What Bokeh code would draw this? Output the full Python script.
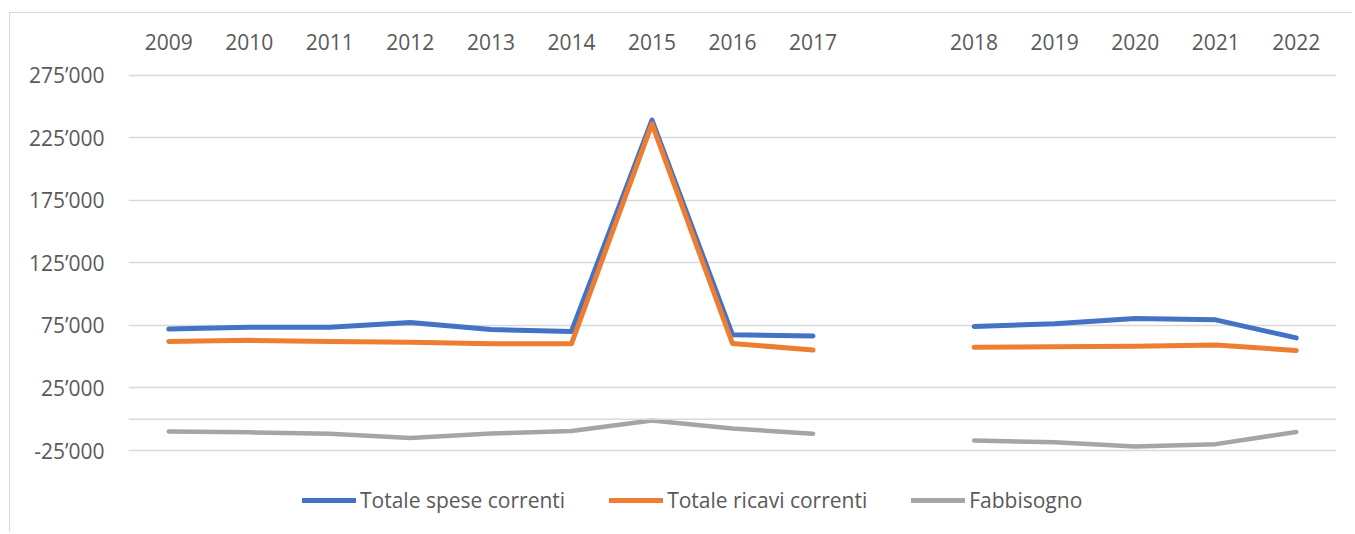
from bokeh.plotting import figure
from bokeh.models import FactorRange, Range1d, FixedTicker, Span, Legend, LegendItem
from bokeh.embed import file_html
from bokeh.resources import INLINE

# ---- data ----
years_a = ["2009", "2010", "2011", "2012", "2013", "2014", "2015", "2016", "2017"]
years_b = ["2018", "2019", "2020", "2021", "2022"]
gap = [" "]

spese_a = [72000, 73500, 73500, 77300, 71700, 70100, 239000, 67400, 66500]
spese_b = [74100, 76300, 80500, 79400, 65000]

ricavi_a = [62100, 63000, 62000, 61500, 60300, 60200, 236000, 60500, 55300]
ricavi_b = [57500, 57900, 58300, 59300, 54900]

fabb_a = [-9800, -10500, -11600, -15000, -11400, -9400, -1000, -7500, -11600]
fabb_b = [-17000, -18400, -21800, -19900, -10200]

y_ticks = [-25000, 25000, 75000, 125000, 175000, 225000, 275000]
y_labels = ["-25\u2019000", "25\u2019000", "75\u2019000", "125\u2019000",
            "175\u2019000", "225\u2019000", "275\u2019000"]

series_names = ["Totale spese correnti", "Totale ricavi correnti", "Fabbisogno"]
colors = ["#4472C4", "#ED7D31", "#A5A5A5"]

FONT = "Open Sans"
TXT = "#595959"
GRID = "#D9D9D9"

p = figure(
    width=1343, height=520,
    x_range=FactorRange(factors=years_a + gap + years_b, range_padding=0),
    y_range=Range1d(-91300, 285000),
    x_axis_location="above",
    output_backend="svg", toolbar_location=None,
    min_border_left=118, min_border_right=17,
    min_border_top=49, min_border_bottom=0,
)
p.styles = {"border-top": "1px solid #D9D9D9", "border-left": "1px solid #D9D9D9",
            "margin-left": "9px", "margin-top": "12px"}
p.outline_line_color = None
p.background_fill_color = "white"
p.border_fill_color = "white"

# grid
p.xgrid.grid_line_color = None
p.ygrid.ticker = FixedTicker(ticks=y_ticks)
p.ygrid.grid_line_color = GRID
p.ygrid.grid_line_width = 1.5

# zero line (category axis line)
p.add_layout(Span(location=0, dimension="width", line_color=GRID, line_width=1.5))

# axes
p.yaxis.ticker = FixedTicker(ticks=y_ticks)
p.yaxis.major_label_overrides = dict(zip(y_ticks, y_labels))
for ax in (p.xaxis, p.yaxis):
    ax.axis_line_color = None
    ax.major_tick_line_color = None
    ax.minor_tick_line_color = None
    ax.major_label_text_font = FONT
    ax.major_label_text_font_size = "21px"
    ax.major_label_text_color = TXT
p.yaxis.major_label_standoff = 18
p.xaxis.major_label_standoff = 1

items = []
data = [(spese_a, spese_b), (ricavi_a, ricavi_b), (fabb_a, fabb_b)]
for name, col, (va, vb) in zip(series_names, colors, data):
    lw = 5 if col != "#A5A5A5" else 4.5
    r1 = p.line(years_a, va, line_color=col, line_width=lw,
                line_cap="round", line_join="round")
    r2 = p.line(years_b, vb, line_color=col, line_width=lw,
                line_cap="round", line_join="round")
    items.append(LegendItem(label=name, renderers=[r1, r2]))

legend = Legend(items=items, orientation="horizontal", location=(174, 19))
legend.border_line_color = None
legend.background_fill_alpha = 0
legend.label_text_font = FONT
legend.label_text_font_size = "21px"
legend.label_text_color = TXT
legend.glyph_width = 54
legend.label_standoff = 4
legend.spacing = 44
legend.padding = 6
legend.margin = 0
p.add_layout(legend)

open("out.html", "w").write(file_html(p, INLINE))
